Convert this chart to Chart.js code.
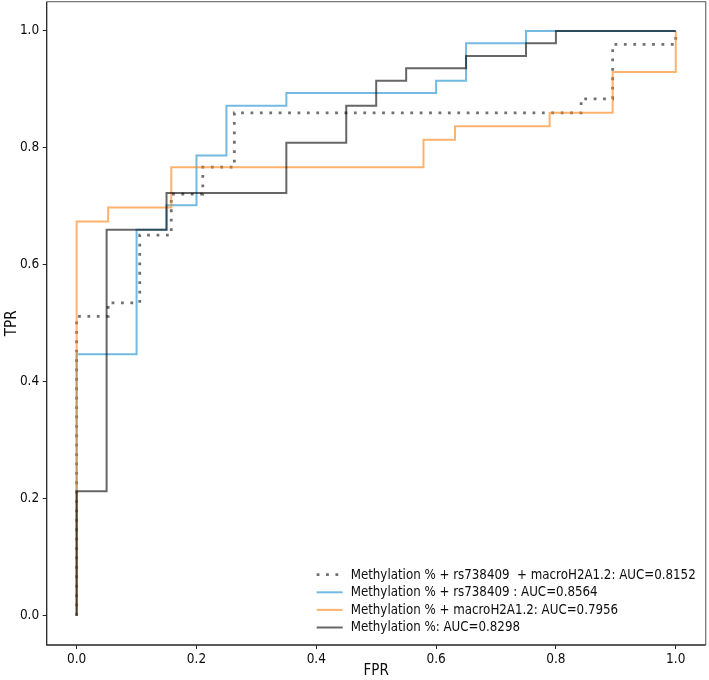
<!DOCTYPE html>
<html>
<head>
<meta charset="utf-8">
<script src="https://cdn.jsdelivr.net/npm/chart.js@4/dist/chart.umd.min.js"></script>
<style>
  html, body { margin: 0; padding: 0; background: #ffffff; }
  #wrap { width: 709px; height: 680px; position: relative; }
</style>
</head>
<body>
<div id="wrap"><canvas id="c" width="709" height="680"></canvas></div>
<script>
// ---- Data (ROC corner points) ----
const seriesLabels = [
  "Methylation % + rs738409  + macroH2A1.2: AUC=0.8152",
  "Methylation % + rs738409 : AUC=0.8564",
  "Methylation % + macroH2A1.2: AUC=0.7956",
  "Methylation %: AUC=0.8298"
];

const fprAll = [0, 0, 0.0526, 0.0526, 0.1053, 0.1053, 0.1579, 0.1579, 0.2105, 0.2105, 0.2632, 0.2632, 0.8421, 0.8421, 0.8947, 0.8947, 1.0, 1.0];
const tprAll = [0, 0.512, 0.512, 0.535, 0.535, 0.651, 0.651, 0.721, 0.721, 0.767, 0.767, 0.860, 0.860, 0.884, 0.884, 0.977, 0.977, 1.0];

const fprRs = [0, 0, 0.10, 0.10, 0.15, 0.15, 0.20, 0.20, 0.25, 0.25, 0.35, 0.35, 0.60, 0.60, 0.65, 0.65, 0.75, 0.75, 1.0];
const tprRs = [0, 0.447, 0.447, 0.660, 0.660, 0.702, 0.702, 0.787, 0.787, 0.872, 0.872, 0.894, 0.894, 0.915, 0.915, 0.979, 0.979, 1.0, 1.0];

const fprMacro = [0, 0, 0.0526, 0.0526, 0.1579, 0.1579, 0.5789, 0.5789, 0.6316, 0.6316, 0.7895, 0.7895, 0.8947, 0.8947, 1.0, 1.0];
const tprMacro = [0, 0.674, 0.674, 0.698, 0.698, 0.767, 0.767, 0.814, 0.814, 0.837, 0.837, 0.860, 0.860, 0.930, 0.930, 1.0];

const fprMeth = [0, 0, 0.05, 0.05, 0.15, 0.15, 0.35, 0.35, 0.45, 0.45, 0.50, 0.50, 0.55, 0.55, 0.65, 0.65, 0.75, 0.75, 0.80, 0.80, 1.0];
const tprMeth = [0, 0.213, 0.213, 0.660, 0.660, 0.723, 0.723, 0.809, 0.809, 0.872, 0.872, 0.915, 0.915, 0.936, 0.936, 0.957, 0.957, 0.979, 0.979, 1.0, 1.0];

const tickValues = [0.0, 0.2, 0.4, 0.6, 0.8, 1.0];
const xTitle = "FPR";
const yTitle = "TPR";

function pts(xs, ys) { return xs.map((x, i) => ({ x: x, y: ys[i] })); }

const FONT = "'DejaVu Sans Condensed', 'DejaVu Sans', sans-serif";

const legendPlugin = {
  id: 'mplLegend',
  afterDatasetsDraw(chart) {
    const ctx = chart.ctx;
    const area = chart.chartArea;
    const dsets = chart.data.datasets;
    ctx.save();
    ctx.font = "13.2px " + FONT;
    let maxW = 0;
    dsets.forEach(d => { maxW = Math.max(maxW, ctx.measureText(d.label).width); });
    const textX = area.right - 10 - maxW;
    const rowH = 17.6;
    const lastY = area.bottom - 17.5;
    dsets.forEach((d, i) => {
      const y = lastY - (dsets.length - 1 - i) * rowH;
      ctx.beginPath();
      ctx.strokeStyle = d.borderColor;
      ctx.lineWidth = d.borderWidth;
      ctx.setLineDash(d.borderDash || []);
      ctx.lineCap = 'butt';
      ctx.moveTo(textX - 34, y);
      ctx.lineTo(textX - 8, y);
      ctx.stroke();
      ctx.setLineDash([]);
      ctx.fillStyle = '#0d0d0d';
      ctx.textBaseline = 'middle';
      ctx.textAlign = 'left';
      ctx.fillText(d.label, textX, y + 0.5);
    });
    ctx.restore();
  },
  afterDraw(chart) {
    const ctx = chart.ctx;
    const a = chart.chartArea;
    ctx.save();
    ctx.lineWidth = 1.3;
    ctx.strokeStyle = '#7a7a7a';
    ctx.beginPath();
    ctx.moveTo(a.left, a.top); ctx.lineTo(a.right, a.top); ctx.lineTo(a.right, a.bottom);
    ctx.stroke();
    ctx.strokeStyle = '#262626';
    ctx.beginPath();
    ctx.moveTo(a.left, a.top); ctx.lineTo(a.left, a.bottom); ctx.lineTo(a.right, a.bottom);
    ctx.stroke();
    ctx.restore();
  }
};

const cfg = {
  type: 'line',
  data: {
    datasets: [
      { label: seriesLabels[0], data: pts(fprAll, tprAll), borderColor: 'rgba(45,45,45,0.68)', borderWidth: 2.8, borderDash: [2.8, 6.6], order: 3 },
      { label: seriesLabels[1], data: pts(fprRs, tprRs), borderColor: 'rgba(20,140,205,0.6)', borderWidth: 2, order: 2 },
      { label: seriesLabels[2], data: pts(fprMacro, tprMacro), borderColor: 'rgba(255,127,14,0.6)', borderWidth: 2, order: 1 },
      { label: seriesLabels[3], data: pts(fprMeth, tprMeth), borderColor: 'rgba(0,0,0,0.6)', borderWidth: 2, order: 0 }
    ]
  },
  options: {
    responsive: false,
    animation: false,
    parsing: false,
    layout: { padding: { top: 1.7, right: 3.3, left: 0, bottom: 0 } },
    elements: {
      point: { radius: 0, hoverRadius: 0 },
      line: { tension: 0, fill: false, borderCapStyle: 'butt', borderJoinStyle: 'miter' }
    },
    plugins: { legend: { display: false }, tooltip: { enabled: false } },
    scales: {
      x: {
        type: 'linear', min: -0.05, max: 1.05,
        afterBuildTicks(s) { s.ticks = tickValues.map(v => ({ value: v })); },
        afterFit(s) { s.height = 35; s.paddingLeft = 0; s.paddingRight = 0; },
        ticks: { autoSkip: false, maxRotation: 0, padding: 2, color: '#0d0d0d', font: { family: FONT, size: 13.5 },
                 callback: v => Number(v).toFixed(1) },
        grid: { drawOnChartArea: false, drawTicks: true, tickLength: 4, color: '#262626', tickWidth: 1 },
        border: { display: false },
        title: { display: true, text: xTitle, color: '#0d0d0d', font: { family: FONT, size: 15 }, padding: { top: 0, bottom: 0.2 } }
      },
      y: {
        type: 'linear', min: -0.05, max: 1.05,
        afterBuildTicks(s) { s.ticks = tickValues.map(v => ({ value: v })); },
        afterFit(s) { s.width = 46.7; s.paddingTop = 0; s.paddingBottom = 0; },
        ticks: { autoSkip: false, padding: 3.5, color: '#0d0d0d', font: { family: FONT, size: 13.5 },
                 callback: v => Number(v).toFixed(1) },
        grid: { drawOnChartArea: false, drawTicks: true, tickLength: 4, color: '#262626', tickWidth: 1 },
        border: { display: false },
        title: { display: true, text: yTitle, color: '#0d0d0d', font: { family: FONT, size: 15 }, padding: { top: 3, bottom: 0 } }
      }
    }
  },
  plugins: [legendPlugin]
};

new Chart(document.getElementById('c'), cfg);
</script>
</body>
</html>
